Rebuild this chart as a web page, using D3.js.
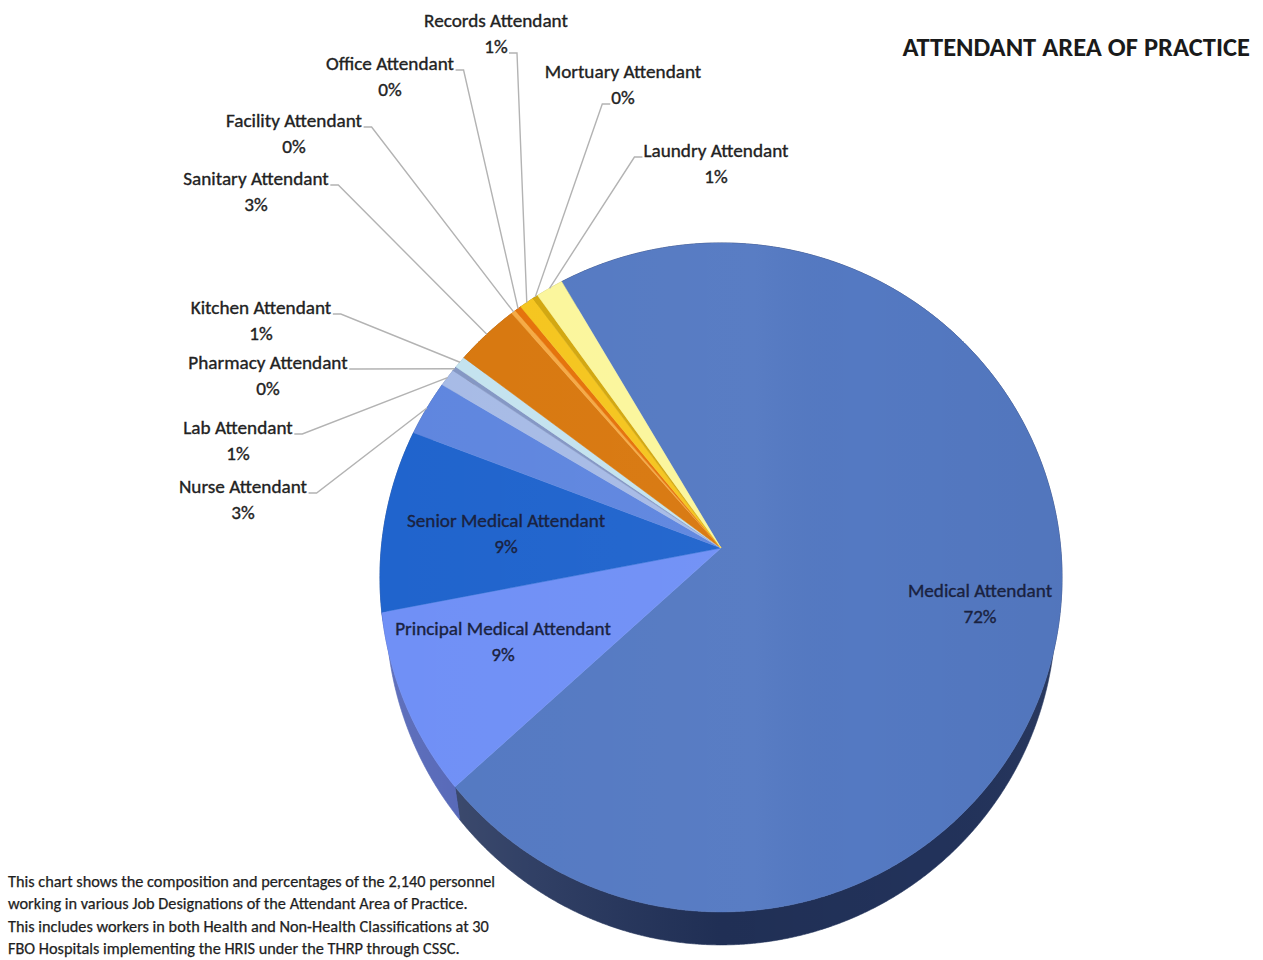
<!DOCTYPE html>
<html>
<head>
<meta charset="utf-8">
<script src="https://cdn.jsdelivr.net/npm/d3@7"></script>
<style>
  html, body { margin: 0; padding: 0; background: #ffffff; }
  svg { display: block; }
</style>
</head>
<body>
<svg id="chart" width="1263" height="960"></svg>
<script>
// Job designations in the Attendant area of practice (clockwise order)
const categories = [
  "Medical Attendant",
  "Principal Medical Attendant",
  "Senior Medical Attendant",
  "Nurse Attendant",
  "Lab Attendant",
  "Pharmacy Attendant",
  "Kitchen Attendant",
  "Sanitary Attendant",
  "Facility Attendant",
  "Office Attendant",
  "Records Attendant",
  "Mortuary Attendant",
  "Laundry Attendant"
];
// Number of personnel per designation
const personnel = [1532, 188, 190, 59, 19, 5, 13, 70, 5, 7, 16, 6, 30];

const sliceColors = [
  "#5479c2", "#7090f6", "#2064cd", "#5f86df", "#a7bbe6", "#8497c4", "#c4e3ef",
  "#d8780f", "#f5aa45", "#e5720a", "#f5c51e", "#d2a70f", "#fbf69c"
];
const sideColors = [
  "#22325a", "#4357b0", "#153f86", "#3b58a0", "#7486b0", "#5a6a90", "#8fb0bd",
  "#9a5408", "#b77a2c", "#a45206", "#b08c10", "#967708", "#c0bb62"
];

const title = "ATTENDANT AREA OF PRACTICE";
const noteLines = [
  "This chart shows the composition and percentages of the {total} personnel",
  "working in various  Job Designations of the Attendant Area of Practice.",
  "This includes workers in both Health and Non-Health Classifications at 30",
  "FBO Hospitals implementing the HRIS under the THRP through CSSC."
];

// Label placement: centre x, first-line centre y, where the leader leaves the text
const labelLayout = {
  "Medical Attendant":           { x: 980, y: 590, inside: true },
  "Principal Medical Attendant": { x: 503, y: 628, inside: true },
  "Senior Medical Attendant":    { x: 506, y: 520, inside: true },
  "Nurse Attendant":             { x: 243, y: 486, attach: "r1" },
  "Lab Attendant":               { x: 238, y: 427, attach: "r1" },
  "Pharmacy Attendant":          { x: 268, y: 362, attach: "r1" },
  "Kitchen Attendant":           { x: 261, y: 307, attach: "r1" },
  "Sanitary Attendant":          { x: 256, y: 178, attach: "r1" },
  "Facility Attendant":          { x: 294, y: 120, attach: "r1" },
  "Office Attendant":            { x: 390, y: 63,  attach: "r1" },
  "Records Attendant":           { x: 496, y: 20,  attach: "r2" },
  "Mortuary Attendant":          { x: 623, y: 71,  attach: "l2" },
  "Laundry Attendant":           { x: 716, y: 150, attach: "l1" }
};

const FONT = "Carlito, Lato, 'Open Sans', sans-serif";

// Perspective view of the pie disc: apex of the slices, radii, tilt, thickness
const view = { cx: 721, cy: 548, a: 339.7, b: 331.9, k: 0.088, depth: 33, shrink: 0.982 };
const startAngle = -30.3 * Math.PI / 180;

function project(theta, level) {
  const u = Math.sin(theta), v = -Math.cos(theta);
  const w = 1 - view.k * v;
  const a = level ? view.a * view.shrink : view.a;
  return [view.cx + a * u / w, view.cy + (level ? view.depth : 0) + view.b * v / w];
}
function arcPoints(a0, a1, level) {
  const n = Math.max(2, Math.ceil(Math.abs(a1 - a0) / (0.25 * Math.PI / 180)));
  return d3.range(n + 1).map(i => project(a0 + (a1 - a0) * i / n, level));
}

const data = categories.map((c, i) => ({ name: c, value: personnel[i], i }));
const total = d3.sum(personnel);
const pie = d3.pie().sort(null).value(d => d.value)
  .startAngle(startAngle).endAngle(startAngle + 2 * Math.PI);
const arcs = pie(data);
const pct = v => Math.round(v / total * 100) + "%";

const svg = d3.select("#chart");
const line = d3.line();
const defs = svg.append("defs");

// horizontal lighting across the side wall
const sideShade = defs.append("linearGradient").attr("id", "sideShade")
  .attr("gradientUnits", "userSpaceOnUse").attr("x1", 380).attr("x2", 1062).attr("y1", 0).attr("y2", 0);
[[0, "#ffffff", 0.16], [0.22, "#ffffff", 0.07], [0.5, "#000000", 0.06], [0.8, "#000000", 0.0], [1, "#ffffff", 0.04]]
  .forEach(([o, c, op]) => sideShade.append("stop").attr("offset", o).attr("stop-color", c).attr("stop-opacity", op));

// soft sheen across the top face
const topShade = defs.append("linearGradient").attr("id", "topShade")
  .attr("gradientUnits", "userSpaceOnUse").attr("x1", 380).attr("x2", 1062).attr("y1", 0).attr("y2", 0);
[[0, "#ffffff", 0.0], [0.55, "#ffffff", 0.03], [0.7, "#000000", 0.0], [1, "#000000", 0.03]]
  .forEach(([o, c, op]) => topShade.append("stop").attr("offset", o).attr("stop-color", c).attr("stop-opacity", op));

// side wall
const sides = svg.append("g");
arcs.forEach(d => {
  const poly = arcPoints(d.startAngle, d.endAngle, 0).concat(arcPoints(d.startAngle, d.endAngle, 1).reverse());
  sides.append("path").attr("d", line(poly) + "Z")
    .attr("fill", sideColors[d.data.i]).attr("stroke", sideColors[d.data.i]).attr("stroke-width", 0.6);
  sides.append("path").attr("d", line(poly) + "Z").attr("fill", "url(#sideShade)");
});

// top faces
const tops = svg.append("g");
arcs.forEach(d => {
  const poly = [[view.cx, view.cy]].concat(arcPoints(d.startAngle, d.endAngle, 0));
  tops.append("path").attr("d", line(poly) + "Z")
    .attr("fill", sliceColors[d.data.i]).attr("stroke", sliceColors[d.data.i]).attr("stroke-width", 0.5)
    .attr("stroke-linejoin", "round");
});
tops.append("path")
  .attr("d", line(arcPoints(0, 2 * Math.PI, 0)) + "Z")
  .attr("fill", "url(#topShade)");

// labels and leader lines
const labels = svg.append("g").attr("font-family", FONT);
arcs.forEach(d => {
  const L = labelLayout[d.data.name];
  const inside = !!L.inside;
  const col = inside ? "#1a2240" : "#222222";
  const g = labels.append("g").attr("fill", col).attr("stroke", col).attr("stroke-width", 0.35)
    .attr("font-size", 19.2).attr("text-anchor", "middle");
  const t1 = g.append("text").attr("x", L.x).attr("y", L.y).attr("dy", "0.35em").text(d.data.name);
  const t2 = g.append("text").attr("x", L.x).attr("y", L.y + 26).attr("dy", "0.35em").text(pct(d.data.value));
  if (inside) return;
  const t = L.attach[1] === "1" ? t1 : t2;
  const bb = t.node().getBBox();
  const right = L.attach[0] === "r";
  const y0 = (L.attach[1] === "1" ? L.y : L.y + 26) + 7;
  const x0 = right ? bb.x + bb.width + 1 : bb.x - 1;
  const x1 = right ? x0 + 8 : x0 - 8;
  const end = project((d.startAngle + d.endAngle) / 2, 0);
  labels.insert("path", ":first-child")
    .attr("d", line([[x0, y0], [x1, y0], end]))
    .attr("fill", "none").attr("stroke", "#b3b3b3").attr("stroke-width", 1.4);
});

// title
svg.append("text").attr("x", 1250).attr("y", 47).attr("dy", "0.35em")
  .attr("text-anchor", "end").attr("font-family", FONT).attr("font-weight", 700)
  .attr("font-size", 26.5).attr("fill", "#1a1a1a").text(title);

// note under the chart
const fmt = d3.format(",");
svg.append("g").attr("font-family", FONT).attr("font-size", 16.3).attr("fill", "#1e1e1e")
  .attr("stroke", "#1e1e1e").attr("stroke-width", 0.25)
  .selectAll("text").data(noteLines).join("text")
  .attr("x", 8).attr("y", (d, i) => 887 + i * 22.3)
  .text(d => d.replace("{total}", fmt(total)));
</script>
</body>
</html>
